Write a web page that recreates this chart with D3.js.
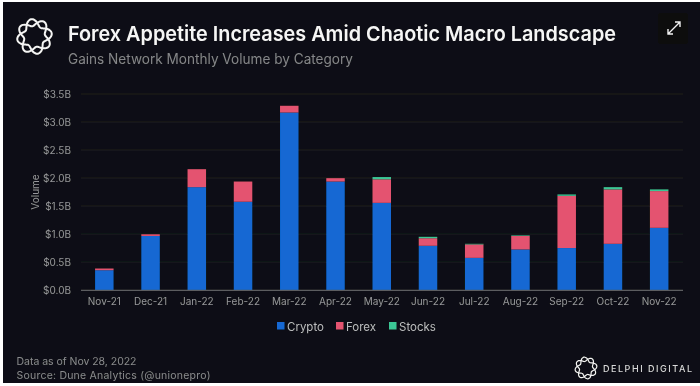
<!DOCTYPE html>
<html>
<head>
<meta charset="utf-8">
<script src="https://cdn.jsdelivr.net/npm/d3@7"></script>
<style>
  html, body { margin: 0; padding: 0; background: #fff; }
  svg { display: block; }
  text { font-family: Inter, "Noto Sans", sans-serif; }
  .domain { display: none; }
</style>
</head>
<body>
<div id="chart"></div>
<script>
const months = ['Nov-21', 'Dec-21', 'Jan-22', 'Feb-22', 'Mar-22', 'Apr-22', 'May-22', 'Jun-22', 'Jul-22', 'Aug-22', 'Sep-22', 'Oct-22', 'Nov-22'];
const crypto = [0.36, 0.97, 1.84, 1.58, 3.17, 1.94, 1.56, 0.795, 0.58, 0.73, 0.755, 0.83, 1.115];
const forex = [0.03, 0.03, 0.32, 0.36, 0.12, 0.06, 0.42, 0.135, 0.24, 0.24, 0.93, 0.97, 0.655];
const stocks = [0, 0, 0, 0, 0, 0, 0.04, 0.025, 0.01, 0.01, 0.025, 0.04, 0.03];
const yTicks = [0, 0.5, 1, 1.5, 2, 2.5, 3, 3.5];
const seriesNames = ['Crypto', 'Forex', 'Stocks'];

const width = 700, height = 386;
const color = d3.scaleOrdinal().domain(seriesNames).range(['#1268d3', '#e4536f', '#3bc795']);

const svg = d3.select('#chart').append('svg')
    .attr('width', width)
    .attr('height', height);

// blurry like the source screenshot
const defs = svg.append('defs');
defs.append('filter').attr('id', 'soft')
    .append('feGaussianBlur').attr('stdDeviation', 0.4);

const root = svg.append('g').attr('filter', 'url(#soft)');

root.append('rect')
    .attr('x', 3).attr('y', 2)
    .attr('width', width - 3).attr('height', height - 5)
    .attr('fill', '#101114');

// header: braided ring logo, two wavy loops in opposite phase
const drawLogo = (cx, cy, r, sw) => {
    const g = root.append('g').attr('transform', `translate(${cx},${cy})`)
        .attr('fill', 'none').attr('stroke', '#f4f4f4').attr('stroke-width', sw);
    const ring = d3.lineRadial().curve(d3.curveCardinalClosed);
    [1, -1].forEach(k => {
        const pts = d3.range(64).map(i => {
            const a = i * Math.PI / 32;
            return [a, r * (0.8 + k * 0.2 * Math.cos(4 * a + Math.PI / 4))];
        });
        g.append('path').attr('d', ring(pts));
    });
};
drawLogo(34.5, 36.5, 17.5, 2);

root.append('text').attr('x', 68).attr('y', 41)
    .attr('font-size', 20.6).attr('font-weight', 600).attr('fill', '#f6f6f6')
    .attr('textLength', 548).attr('lengthAdjust', 'spacingAndGlyphs')
    .text('Forex Appetite Increases Amid Chaotic Macro Landscape');
root.append('text').attr('x', 68).attr('y', 64)
    .attr('font-size', 14).attr('fill', '#85868a')
    .attr('textLength', 285).attr('lengthAdjust', 'spacingAndGlyphs')
    .text('Gains Network Monthly Volume by Category');

// expand icon
root.append('rect').attr('x', 658).attr('y', 13).attr('width', 30).attr('height', 31).attr('rx', 3).attr('fill', '#08080a');
root.append('path')
    .attr('d', 'M668 34l12-12m-5 0h5v5M668 29v5h5')
    .attr('fill', 'none').attr('stroke', '#f2f2f2').attr('stroke-width', 1.4);

// scales
const x = d3.scaleBand().domain(months).range([81.2, 682.3]).paddingInner(0.6).paddingOuter(0.3);
const y = d3.scaleLinear().domain([0, 3.5]).range([290.4, 94]);

const yAxis = d3.axisLeft(y)
    .tickValues(yTicks)
    .tickSize(0)
    .tickPadding(10)
    .tickFormat(d => '$' + d.toFixed(1) + 'B');
const yG = root.append('g').attr('transform', 'translate(81,0)').call(yAxis);
yG.selectAll('text').attr('font-size', 10).attr('fill', '#96979b');

root.append('g').selectAll('line')
    .data(yTicks.slice(1))
    .join('line')
    .attr('x1', 81).attr('x2', 683)
    .attr('y1', d => y(d)).attr('y2', d => y(d))
    .attr('stroke', '#1b1c1f').attr('stroke-width', 1);

root.append('text')
    .attr('transform', 'translate(39,192) rotate(-90)')
    .attr('text-anchor', 'middle')
    .attr('font-size', 10).attr('fill', '#96979b')
    .text('Volume');

// bars
const rows = months.map((m, i) => ({ month: m, Crypto: crypto[i], Forex: forex[i], Stocks: stocks[i] }));
const stack = d3.stack().keys(seriesNames);
root.append('g').selectAll('g')
    .data(stack(rows))
    .join('g')
    .attr('fill', d => color(d.key))
    .selectAll('rect')
    .data(d => d)
    .join('rect')
    .attr('x', d => x(d.data.month))
    .attr('width', x.bandwidth())
    .attr('y', d => y(d[1]))
    .attr('height', d => y(d[0]) - y(d[1]));

// x axis
const xAxis = d3.axisBottom(x).tickSize(0).tickPadding(8);
const xG = root.append('g').attr('transform', 'translate(0,290.4)').call(xAxis);
xG.selectAll('text').attr('font-size', 10).attr('fill', '#96979b');
root.append('line')
    .attr('x1', 81).attr('x2', 683)
    .attr('y1', y(0)).attr('y2', y(0))
    .attr('stroke', '#5c5d60').attr('stroke-width', 1.2);

// legend
const legendX = [277, 336, 389];
const legend = root.append('g').selectAll('g')
    .data(seriesNames)
    .join('g')
    .attr('transform', (d, i) => `translate(${legendX[i]},322)`);
legend.append('rect').attr('width', 7.5).attr('height', 7.5).attr('fill', d => color(d));
legend.append('text').attr('x', 10).attr('y', 8.5)
    .attr('font-size', 11.5).attr('fill', '#bcbdc0')
    .text(d => d);

// footer
root.append('text').attr('x', 16.5).attr('y', 365)
    .attr('font-size', 10.5).attr('fill', '#8a8b8f')
    .attr('textLength', 120)
    .text('Data as of Nov 28, 2022');
root.append('text').attr('x', 16.5).attr('y', 379)
    .attr('font-size', 10.5).attr('fill', '#8a8b8f')
    .attr('textLength', 194)
    .text('Source: Dune Analytics (@unionepro)');

drawLogo(586, 368, 11, 1.2);
root.append('text').attr('x', 603).attr('y', 371.5)
    .attr('font-size', 9).attr('font-weight', 500).attr('fill', '#d8d8da')
    .attr('textLength', 89).attr('lengthAdjust', 'spacing')
    .text('DELPHI DIGITAL');
</script>
</body>
</html>
